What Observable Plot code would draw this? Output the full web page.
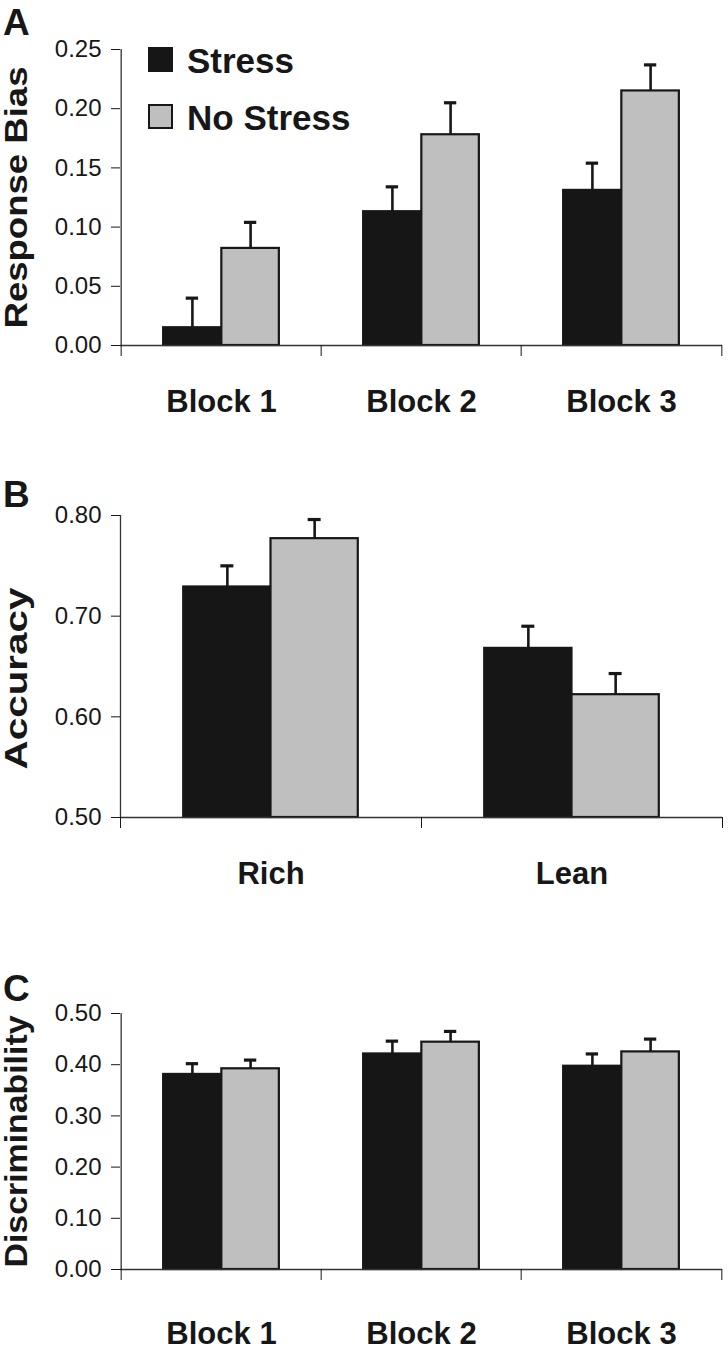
<!DOCTYPE html>
<html>
<head>
<meta charset="utf-8">
<script src="https://cdn.jsdelivr.net/npm/d3@7"></script>
<script src="https://cdn.jsdelivr.net/npm/@observablehq/plot@0.6"></script>
<style>
  body { margin: 0; background: #fff; }
  #root { position: relative; width: 728px; height: 1364px; overflow: hidden;
          font-family: "Liberation Sans", Arial, Helvetica, sans-serif; color: #171717; }
  #root svg { display: block; }
  .letter { position: absolute; left: 3px; font-weight: bold; font-size: 37px; line-height: 1; }
  .legend { position: absolute; left: 148px; font-weight: bold; font-size: 35px; line-height: 1; }
  .legend .row { position: absolute; left: 0; white-space: nowrap; }
  .legend .sw { position: absolute; left: 0; width: 25px; height: 25px; box-sizing: border-box; }
  .legend .lab { position: absolute; left: 39px; }
</style>
</head>
<body>
<div id="root"></div>
<script>
// ---------- data ----------
const conditions = ["Stress", "No Stress"];
const blocks = ["Block 1", "Block 2", "Block 3"];
const schedules = ["Rich", "Lean"];

// Panel A: response bias
const biasStress     = [0.015, 0.113, 0.131];
const biasStressSE   = [0.025, 0.021, 0.023];
const biasNoStress   = [0.082, 0.178, 0.215];
const biasNoStressSE = [0.022, 0.027, 0.022];
const biasTicks = [0.00, 0.05, 0.10, 0.15, 0.20, 0.25];

// Panel B: accuracy
const accStress     = [0.729, 0.668];
const accStressSE   = [0.021, 0.022];
const accNoStress   = [0.777, 0.622];
const accNoStressSE = [0.019, 0.021];
const accTicks = [0.50, 0.60, 0.70, 0.80];

// Panel C: discriminability
const discStress     = [0.381, 0.421, 0.397];
const discStressSE   = [0.021, 0.025, 0.024];
const discNoStress   = [0.392, 0.444, 0.425];
const discNoStressSE = [0.017, 0.021, 0.025];
const discTicks = [0.00, 0.10, 0.20, 0.30, 0.40, 0.50];

const fills = ["#161616", "#bfbfbf"];
const ink = "#171717";

// ---------- panel builder ----------
function makePanel(cfg) {
  const width = 728, marginLeft = 120, marginRight = 6;
  const n = cfg.cats.length;
  const bw = (width - marginLeft - marginRight) / n;
  const barW = bw * 0.29;
  const capHalf = 6.5;
  const base = cfg.yTicks[0];
  const top = cfg.yTicks[cfg.yTicks.length - 1];
  const rows = cfg.cats.flatMap((c, i) => [
    {cat: c, cond: conditions[0], value: cfg.stress[i], hi: cfg.stress[i] + cfg.stressSE[i]},
    {cat: c, cond: conditions[1], value: cfg.noStress[i], hi: cfg.noStress[i] + cfg.noStressSE[i]}
  ]);
  const marks = [];
  conditions.forEach((cond, k) => {
    const data = rows.filter(d => d.cond === cond);
    const left = k === 0;
    marks.push(Plot.barY(data, {
      x: "cat", y1: base, y2: "value", fill: "cond", stroke: ink, strokeWidth: 2.2,
      insetLeft: left ? bw / 2 - barW : bw / 2,
      insetRight: left ? bw / 2 : bw / 2 - barW
    }));
  });
  conditions.forEach((cond, k) => {
    const data = rows.filter(d => d.cond === cond);
    const off = (k === 0 ? -1 : 1) * barW / 2;
    marks.push(Plot.ruleX(data, {x: "cat", y1: "value", y2: "hi", dx: off, stroke: ink, strokeWidth: 2.6}));
    marks.push(Plot.tickY(data, {x: "cat", y: "hi", dx: off, insetLeft: bw / 2 - capHalf,
      insetRight: bw / 2 - capHalf, stroke: ink, strokeWidth: 3.2}));
  });
  // axis lines
  marks.push(Plot.ruleY([base], {stroke: "#333", strokeWidth: 1.3}));
  marks.push(Plot.ruleX([cfg.cats[0]], {x: d => d, dx: -bw / 2, y1: base, y2: top, stroke: "#333", strokeWidth: 1.3}));
  // y axis
  marks.push(Plot.axisY({ticks: cfg.yTicks, tickFormat: d3.format(".2f"), tickSize: 9, tickPadding: 10,
    fontSize: 24, label: null}));
  // x axis: category labels and boundary ticks
  marks.push(Plot.axisX({tickSize: 0, tickPadding: cfg.labelPad, fontSize: 31, fontWeight: "bold", label: null}));
  marks.push(Plot.axisX({dx: -bw / 2, tickSize: 11, tickFormat: () => "", label: null}));
  marks.push(Plot.axisX({ticks: [cfg.cats[n - 1]], dx: bw / 2, tickSize: 11, tickFormat: () => "", label: null}));
  // y title
  marks.push(Plot.text([cfg.title], {text: d => d, frameAnchor: "left", textAnchor: "middle",
    dx: -103, dy: cfg.titleDy, rotate: -90, fontSize: 31, fontWeight: "bold"}));

  const svg = Plot.plot({
    width, height: cfg.height, marginTop: cfg.marginTop, marginBottom: cfg.marginBottom,
    marginLeft, marginRight,
    x: {domain: cfg.cats, padding: 0},
    y: {domain: [base, top]},
    color: {domain: conditions, range: fills},
    style: {fontFamily: "'Liberation Sans', Arial, Helvetica, sans-serif", color: ink, background: "#fff", overflow: "visible"},
    marks
  });
  d3.select(svg).selectAll("text")
    .filter(function () { return this.textContent === cfg.title; })
    .attr("text-anchor", "start")
    .attr("x", -cfg.titleLen / 2)
    .attr("textLength", cfg.titleLen)
    .attr("lengthAdjust", "spacingAndGlyphs");
  return svg;
}

const root = document.getElementById("root");
root.appendChild(makePanel({
  cats: blocks, stress: biasStress, stressSE: biasStressSE, noStress: biasNoStress, noStressSE: biasNoStressSE,
  yTicks: biasTicks, title: "Response Bias", titleLen: 262, titleDy: 0,
  height: 440, marginTop: 49, marginBottom: 95, labelPad: 44
}));
root.appendChild(makePanel({
  cats: schedules, stress: accStress, stressSE: accStressSE, noStress: accNoStress, noStressSE: accNoStressSE,
  yTicks: accTicks, title: "Accuracy", titleLen: 182, titleDy: 12,
  height: 490, marginTop: 75, marginBottom: 113, labelPad: 44
}));
root.appendChild(makePanel({
  cats: blocks, stress: discStress, stressSE: discStressSE, noStress: discNoStress, noStressSE: discNoStressSE,
  yTicks: discTicks, title: "Discriminability", titleLen: 252, titleDy: 0,
  height: 434, marginTop: 83, marginBottom: 95, labelPad: 52
}));

// panel letters
[["A", 4], ["B", 476], ["C", 970]].forEach(([t, y]) => {
  const d = document.createElement("div");
  d.className = "letter"; d.textContent = t; d.style.top = y + "px";
  root.appendChild(d);
});

// legend (inside panel A)
const legend = document.createElement("div");
legend.className = "legend";
legend.style.top = "0px";
conditions.forEach((c, i) => {
  const row = document.createElement("div");
  row.className = "row";
  row.style.top = (i === 0 ? 47 : 104) + "px";
  const sw = document.createElement("div");
  sw.className = "sw";
  sw.style.background = fills[i];
  sw.style.border = "2.5px solid " + ink;
  const lab = document.createElement("div");
  lab.className = "lab";
  lab.textContent = c;
  lab.style.top = "-4px";
  row.appendChild(sw); row.appendChild(lab);
  legend.appendChild(row);
});
root.appendChild(legend);
</script>
</body>
</html>
